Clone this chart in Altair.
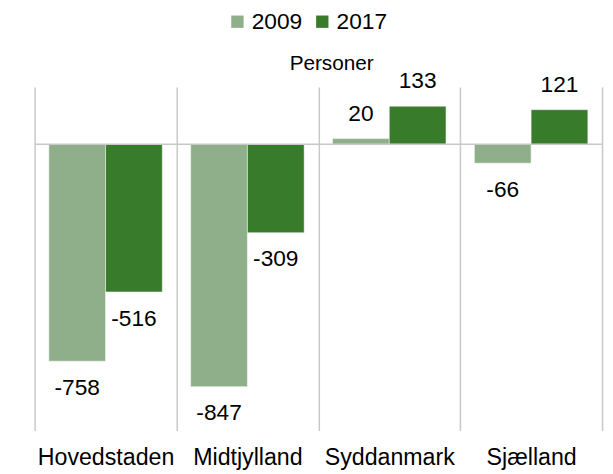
import altair as alt
import pandas as pd

regions = ["Hovedstaden", "Midtjylland", "Syddanmark", "Sjælland"]
years = ["2009", "2017"]
v2009 = [-758, -847, 20, -66]
v2017 = [-516, -309, 133, 121]
unit_label = ["Personer"]

rows = []
for i, r in enumerate(regions):
    rows.append({"region": r, "year": "2009", "value": v2009[i]})
    rows.append({"region": r, "year": "2017", "value": v2017[i]})
df = pd.DataFrame(rows)

colors = ["#8FAF8A", "#377B2B"]
FONT = "Liberation Sans"
GRID = "#C8C8C8"
YDOM = [-1000, 200]

x = alt.X(
    "region:N", sort=regions, title=None,
    scale=alt.Scale(paddingInner=0, paddingOuter=0),
    axis=alt.Axis(orient="bottom", domain=False, ticks=False, grid=True,
                  tickBand="extent", gridColor=GRID, gridWidth=1.5,
                  labelAngle=0, labelFontSize=23.5, labelFont=FONT,
                  labelColor="black", labelPadding=15),
)
xo = alt.XOffset("year:N", sort=years, scale=alt.Scale(paddingOuter=0.25, paddingInner=0))
y = alt.Y("value:Q", scale=alt.Scale(domain=YDOM, nice=False), axis=None)

base = alt.Chart(df).transform_calculate(label="toString(datum.value)")

bars = base.mark_bar(stroke="white", strokeWidth=0.5).encode(
    x=x, xOffset=xo, y=y, y2=alt.datum(0),
    color=alt.Color("year:N", scale=alt.Scale(domain=years, range=colors),
                    legend=alt.Legend(orient="none", legendX=194, legendY=-78,
                                      direction="horizontal", title=None,
                                      symbolType="square", symbolSize=156,
                                      symbolStrokeWidth=0, labelFontSize=23,
                                      labelFont=FONT, labelColor="black",
                                      columnPadding=8, labelOffset=3)),
)

zero = alt.Chart(pd.DataFrame({"z": [0]})).mark_rule(color=GRID, strokeWidth=1.5).encode(
    y=alt.Y("z:Q", scale=alt.Scale(domain=YDOM, nice=False), axis=None)
)

pos = base.transform_filter("datum.value >= 0").mark_text(
    baseline="middle", dy=-25, fontSize=23, font=FONT, color="black"
).encode(x=x, xOffset=xo, y=y, text="label:N")

neg = base.transform_filter("datum.value < 0").mark_text(
    baseline="middle", dy=27, fontSize=23, font=FONT, color="black"
).encode(x=x, xOffset=xo, y=y, text="label:N")

unit = alt.Chart(pd.DataFrame({"t": unit_label})).mark_text(
    fontSize=21, font=FONT, color="black", baseline="middle", align="center"
).encode(text="t:N", x=alt.value(301), y=alt.value(-23))

chart = alt.layer(bars, zero, pos, neg, unit).properties(
    width=575, height=348,
    autosize="none",
    padding={"left": 27, "top": 77, "right": 3, "bottom": 42},
).configure_view(stroke=None)

chart.save("out.html", embed_options={"renderer": "svg", "actions": False})
